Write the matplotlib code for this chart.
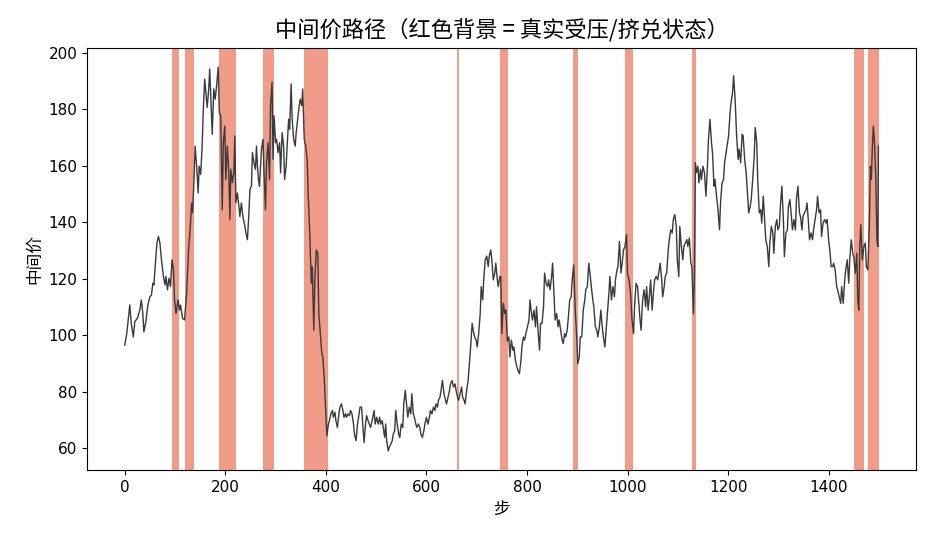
import numpy as np
import matplotlib.pyplot as plt

plt.rcParams['font.family'] = ['Noto Sans CJK SC', 'DejaVu Sans']
plt.rcParams['axes.unicode_minus'] = False

# (step, mid price)
path_pts = [
    (0, 96.5), (4, 100.6), (10, 110.7), (13, 104.2), (17, 99.4), (20, 104.8), (25, 106), (30, 108.9), (33, 112.5), (36, 107.7),
    (38, 101.2), (42, 104.8), (46, 110.7), (50, 113.6), (53, 114.2), (56, 118.4), (58, 117.8), (61, 125.5), (64, 132.6), (67, 135),
    (70, 132.6), (73, 126.7), (77, 120.8), (80, 117.8), (82, 120.8), (85, 116.1), (88, 120.2), (91, 117.2), (94, 126.7), (97, 123.1),
    (99, 112.5), (102, 107.7), (106, 112.5), (109, 108.9), (111, 110.7), (115, 106), (119, 105.4), (123, 114.9), (127, 130.2), (130, 137.3),
    (133, 146.8), (135, 143.3), (138, 156.3), (140, 166.9), (143, 159.8), (146, 150.3), (148, 159.8), (151, 156.9), (154, 166.9), (156, 178.8),
    (159, 190.6), (162, 184.7), (164, 180.6), (167, 187.1), (169, 194.2), (171, 184.7), (174, 171.1), (177, 187.1), (180, 183.5), (183, 188.9),
    (186, 194.8), (188, 178.8), (191, 177.6), (194, 144.4), (196, 168.1), (199, 174), (201, 155.1), (204, 166.9), (207, 157.5), (209, 140.9),
    (211, 158.7), (214, 154), (217, 157.5), (219, 170.5), (221, 146.8), (224, 150.3), (227, 145.6), (229, 142), (232, 146.8), (235, 142),
    (239, 138.5), (241, 136.2), (244, 133.8), (247, 143.3), (249, 151.6),
    (252, 152.7), (254, 164.6), (257, 161), (260, 158.7), (262, 166.9), (264, 159.8), (266, 155.1), (268, 152.7), (272, 165.8), (275, 169.3),
    (277, 157.5), (280, 144.4), (282, 161), (285, 168.1), (288, 155.1), (290, 181.2), (293, 189.5), (295, 162.2), (297, 177.6), (300, 168.1),
    (302, 169.3), (305, 164.6), (308, 168.1), (310, 157.5), (313, 171.7), (316, 166.9), (318, 155.1), (321, 159.8), (323, 166.9), (326, 176.4),
    (328, 172.9), (331, 188.9), (333, 176.4), (336, 169.3), (339, 166.9), (341, 171.7), (344, 176.4), (347, 181.2), (349, 183.5), (352, 181.2),
    (354, 187.1), (357, 169.3), (360, 166.9), (363, 161.6), (365, 149.2), (368, 136.2), (371, 118.4), (373, 124.3), (376, 101.8), (378, 119.6),
    (381, 130.2), (384, 129), (386, 107.7), (389, 100.6), (392, 93.5), (394, 92.3), (397, 84), (400, 72.2), (402, 64.4), (405, 68.6),
    (407, 69.8), (410, 72.2), (413, 73.4), (415, 71), (418, 72.8), (420, 69.8), (423, 67.4), (426, 72.2), (428, 74.6), (431, 75.7),
    (434, 73.4), (436, 71), (439, 72.2), (441, 71), (444, 72.2), (447, 71.6), (449, 73.4), (452, 72.2), (455, 68.6), (457, 65),
    (460, 62.7), (463, 68.6), (465, 71), (468, 74.6), (471, 74.6), (473, 69.8), (476, 62.1), (479, 68.6), (481, 71.6), (484, 69.8),
    (489, 67.4), (492, 69.8), (496, 73.4), (498, 68.6), (501, 71), (504, 68.6), (507, 71), (509, 68.6), (512, 69.8), (514, 67.4),
    (517, 63.9), (519, 68.6), (521, 62.7), (524, 59.1), (526, 60.3), (529, 61.5), (532, 62.7), (534, 65), (537, 66.3), (539, 73.4),
    (542, 68.6), (545, 65), (547, 63.9), (550, 68.6), (553, 67.4), (555, 75.7), (558, 80.5), (561, 74.6), (563, 71), (566, 74.6),
    (569, 72.2), (571, 79.3), (574, 72.2), (576, 71), (579, 68.6), (581, 67.4), (584, 68.6), (587, 67.4), (589, 65), (592, 63.9),
    (595, 66.3), (597, 68.6), (600, 71), (603, 68.6), (606, 71), (608, 73.4), (611, 72.2), (614, 74.6), (617, 73.4), (619, 75.7),
    (622, 74.6), (624, 77), (627, 78.1), (630, 81.7), (632, 84), (635, 79.3), (638, 77), (640, 75.7), (643, 78.1), (646, 80.5),
    (648, 82.8), (651, 84), (654, 81.7), (657, 82.8), (659, 80.5), (662, 78.1), (664, 77), (667, 79.3), (670, 81.7), (672, 78.1),
    (675, 77), (677, 75.7), (680, 80.5), (683, 84), (685, 88.8), (688, 95.9), (691, 104.2), (693, 101.8), (696, 99.4), (699, 98.3),
    (701, 95.9), (704, 100.6), (707, 107.7), (709, 117.2), (712, 112.5), (714, 119.6), (717, 126.7), (720, 128), (723, 124.3), (725, 128),
    (728, 130.2), (730, 126.7), (733, 119.6), (736, 122), (738, 125.5), (741, 119.6), (743, 117.2), (746, 120.8),
    (748, 120.8), (750, 100.6), (753, 111.3), (756, 107.7), (758, 108.9), (761, 97.9), (764, 99.4), (766, 92.3), (769, 98.3), (772, 94.7),
    (774, 95.9), (777, 91.1), (780, 88.8), (782, 87.6), (785, 86.4), (788, 91.1), (790, 95.9), (793, 99.4), (795, 98.3), (798, 100.6),
    (801, 103), (804, 105.4), (806, 112.5), (809, 107.7), (811, 105.4), (814, 108.9), (817, 103), (819, 110.1), (822, 101.8), (825, 94.7),
    (827, 104.2), (830, 104.2), (833, 110.1), (835, 122), (838, 118.4), (841, 117.2), (843, 119.6), (846, 116.1), (849, 120.8), (851, 125.5),
    (854, 113.6), (856, 105.4), (859, 107.7), (862, 103), (864, 105.4), (867, 101.8), (870, 98.3), (872, 97.1), (875, 100.6), (877, 99.4),
    (880, 101.8), (883, 107.7), (885, 112.5), (888, 113.6), (890, 119.6), (893, 124.9), (896, 108.9), (899, 99.4), (901, 89.9), (904, 92.3),
    (906, 99.4), (909, 99.4), (912, 108.9), (915, 112.5), (917, 116.1), (920, 117.2), (923, 125.5), (926, 120.8), (928, 117.2), (931, 112.5),
    (933, 110.1), (936, 103), (939, 101.8), (941, 99.4), (944, 103), (947, 108.9), (949, 104.2), (952, 99.4), (955, 95.9), (957, 100.6),
    (960, 107.7), (963, 114.9), (965, 120.8), (968, 112.5), (971, 117.2), (974, 113.6), (976, 119.6), (979, 123.1), (981, 124.3), (984, 133.2),
    (987, 122), (990, 126.7), (992, 130.2), (995, 131.4), (998, 135.6), (1000, 122), (1003, 119.6),
    (1006, 114.9), (1009, 105.4), (1012, 100.6), (1014, 110.1), (1017, 118.4), (1020, 117.2), (1022, 112.5), (1025, 105.4), (1027, 101.8), (1030, 112.5),
    (1033, 116.1), (1036, 110.1), (1038, 117.2), (1041, 108.9), (1044, 114.9), (1046, 119.6), (1049, 108.9), (1052, 116.1), (1054, 119.6), (1057, 120.8),
    (1060, 119.6), (1062, 122), (1065, 125.5), (1068, 119.6), (1070, 113.6), (1073, 117.2), (1075, 120.8), (1078, 122), (1081, 130.2), (1083, 133.8),
    (1086, 137.3), (1089, 136.2), (1091, 140.9), (1094, 142.7), (1097, 138.5), (1099, 126.7), (1102, 120.8), (1104, 138.5), (1107, 131.4), (1110, 126.7),
    (1112, 131.4), (1115, 132.6), (1118, 133.8), (1120, 131.4), (1123, 134.4), (1126, 125.5), (1128, 124.3), (1131, 107.7), (1133, 120.8), (1135, 161),
    (1137, 157.5), (1140, 159.8), (1142, 153.9), (1145, 158.7), (1147, 155.1), (1150, 159.8), (1153, 157.5), (1156, 149.2), (1159, 159.8), (1161, 169.3),
    (1164, 176.4), (1167, 168.1), (1169, 164.6), (1172, 152.7), (1174, 155.1), (1177, 149.2), (1180, 144.4), (1183, 137.3), (1185, 146.8), (1188, 153.9),
    (1191, 155.1), (1193, 161), (1196, 164.6), (1198, 166.9), (1201, 170.5), (1204, 178.8), (1206, 182.3), (1209, 185.9), (1211, 191.8), (1214, 183.5),
    (1217, 170.5), (1220, 162.2), (1222, 165.8), (1225, 161), (1228, 171.1), (1230, 170.5), (1233, 162.2), (1236, 157.5), (1238, 151.6), (1241, 143.3),
    (1244, 145.6), (1246, 148), (1249, 155.1), (1252, 163.4), (1254, 173.5), (1257, 168.1), (1259, 155.1), (1262, 143.3),
    (1265, 144.4), (1267, 139.7), (1270, 149.2), (1273, 139.7), (1275, 133.8), (1278, 131.4), (1281, 124.3), (1283, 132.6), (1286, 138.5), (1289, 136.2),
    (1291, 129), (1294, 138.5), (1297, 140.9), (1299, 137.3), (1302, 138.5), (1304, 145.6), (1307, 152.7), (1310, 140.9), (1312, 127.8), (1315, 136.2),
    (1318, 137.3), (1320, 145.6), (1323, 148), (1326, 142), (1328, 137.3), (1331, 140.9), (1334, 137.3), (1336, 148), (1339, 152.7), (1342, 143.3),
    (1344, 142), (1347, 137.3), (1349, 142), (1352, 143.3), (1355, 144.4), (1357, 146.8), (1360, 139.7), (1362, 133.8), (1365, 136.2), (1368, 133.8),
    (1370, 137.3), (1373, 140.9), (1376, 144.4), (1378, 149.2), (1381, 143.3), (1384, 144.4), (1386, 134.9), (1389, 139.7), (1392, 140.9), (1395, 139.7),
    (1397, 140.9), (1400, 133.8), (1403, 129), (1405, 124.3), (1408, 124.3), (1410, 125.5), (1413, 123.1), (1416, 117.2), (1418, 116.1), (1421, 113.6),
    (1424, 111.3), (1426, 117.2), (1429, 111.3), (1432, 119.6), (1434, 123.1), (1437, 126.7), (1440, 118.4), (1442, 126.7), (1445, 133.8), (1448, 129),
    (1450, 127.8), (1453, 121.9), (1456, 129), (1458, 112.5), (1460, 108.9), (1462, 131.4), (1464, 139.1), (1467, 126.7), (1470, 131.4), (1473, 132.6),
    (1475, 124.3), (1478, 123.1), (1481, 138.5), (1483, 159.8), (1485, 155.1), (1487, 166.9), (1489, 174), (1491, 169.3), (1494, 155.1), (1496, 133.8),
    (1498, 131.4), (1499, 166.9),
]
steps = np.array([p[0] for p in path_pts])
mid = np.array([p[1] for p in path_pts])

# stressed / run periods (first step, last step)
stress_start = [95, 121, 188, 275, 357, 661, 746, 893, 995, 1013, 1015, 1017, 1129, 1450, 1479]
stress_end = [107, 138, 221, 297, 403, 664, 762, 901, 1011, 1013, 1015, 1017, 1135, 1469, 1499]

fig, ax = plt.subplots(figsize=(9.36, 5.46), dpi=100)
fig.subplots_adjust(left=0.093, right=0.979, top=0.912, bottom=0.139)

for s, e in zip(stress_start, stress_end):
    ax.axvspan(s - 0.5, e + 0.5, facecolor='#e8674a', alpha=0.65, lw=0)

ax.plot(steps, mid, color='#3a3a3a', lw=1)

ax.set_title('中间价路径（红色背景 = 真实受压/挤兑状态）', fontsize=16, pad=8)
ax.set_xlabel('步', fontsize=12)
ax.set_ylabel('中间价', fontsize=12)
ax.tick_params(labelsize=11)
for lab in ax.get_xticklabels() + ax.get_yticklabels():
    lab.set_family(['DejaVu Sans', 'Noto Sans CJK SC'])

fig.savefig('out.png')
